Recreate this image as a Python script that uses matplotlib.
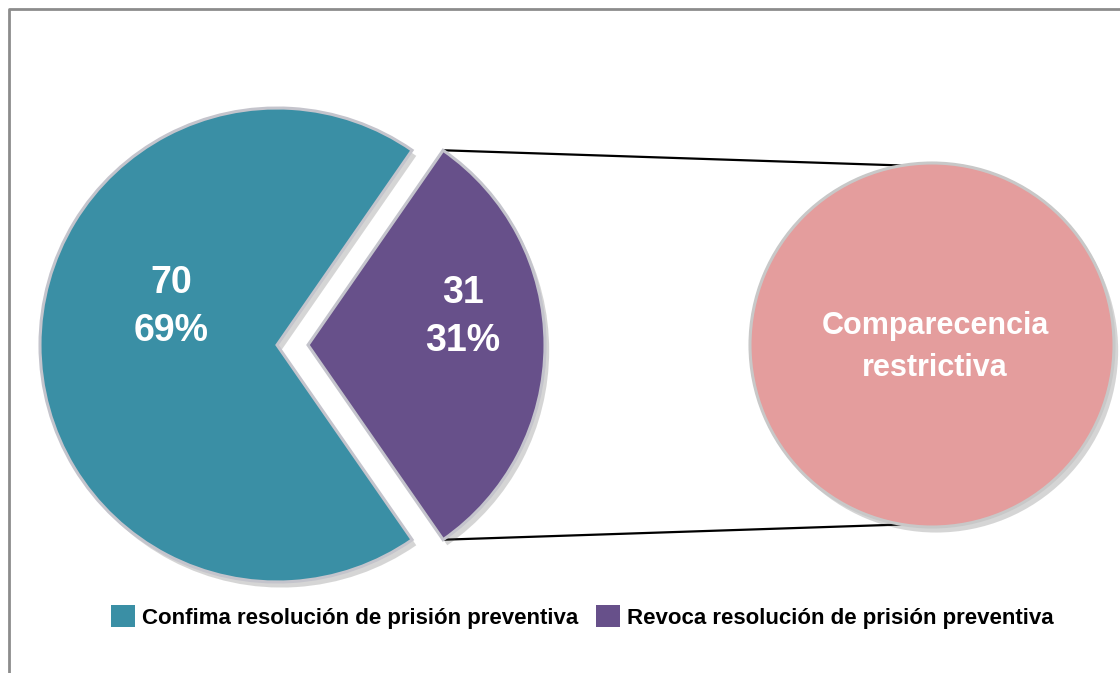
import matplotlib.pyplot as plt
import numpy as np
from matplotlib.patches import Patch

# data
categories = ['Confima resolución de prisión preventiva', 'Revoca resolución de prisión preventiva']
values = [70, 31]
colors = ['#3a8fa5', '#67508a']
sub_label = 'Comparecencia restrictiva'
sub_color = '#e49d9d'

W, H = 1120, 673
plt.rcParams['font.family'] = ['Liberation Sans', 'DejaVu Sans']

fig = plt.figure(figsize=(W / 100, H / 100), dpi=100)
ax = fig.add_axes([0, 0, 1, 1])

total = sum(values)
start = values[1] / total * 180  # so the exploded slice points right

shadow = {'ox': 3, 'oy': -4, 'facecolor': '#444444', 'edgecolor': 'none', 'alpha': 0.22}

main_c = (277, H - 345)
main_r = 237
wedges, _ = ax.pie(values, colors=colors, startangle=start, center=main_c, radius=main_r,
                   explode=[0, 31],
                   wedgeprops={'edgecolor': '#c4c4cc', 'linewidth': 2.2},
                   shadow=shadow)

# second pie (all of the exploded slice)
sub_c = (932, H - 345)
sub_r = 182
sub_w, _ = ax.pie([values[1]], colors=[sub_color], center=sub_c, radius=sub_r,
                  wedgeprops={'edgecolor': '#c8c8c8', 'linewidth': 2.2},
                  shadow=shadow)

ax.set_xlim(0, W)
ax.set_ylim(0, H)
ax.axis('off')

# connector lines from the exploded slice corners to the second pie
w = wedges[1]
cx, cy = w.center
for sgn in (1, -1):
    a = np.radians(w.theta2 if sgn > 0 else w.theta1)
    x0, y0 = cx + main_r * np.cos(a), cy + main_r * np.sin(a)
    b = np.radians(90 + 9.5) if sgn > 0 else np.radians(-90 - 9.5)
    x1, y1 = sub_c[0] + sub_r * np.cos(b), sub_c[1] + sub_r * np.sin(b)
    ax.plot([x0, x1], [y0, y1], color='black', lw=1.6, zorder=0)

# labels
pcts = [round(v / total * 100) for v in values]
ax.text(171, H - 307, f'{values[0]}\n{pcts[0]}%', color='white', fontsize=27,
        fontweight='bold', ha='center', va='center', linespacing=1.4)
ax.text(463, H - 317, f'{values[1]}\n{pcts[1]}%', color='white', fontsize=27,
        fontweight='bold', ha='center', va='center', linespacing=1.4)
ax.text(935, H - 347, 'Comparecencia\nrestrictiva', color='white', fontsize=22,
        fontweight='bold', ha='center', va='center', linespacing=1.5)

# legend
handles = [Patch(facecolor=c) for c in colors]
ax.legend(handles, categories, loc='center', bbox_to_anchor=(582 / W, 1 - 617 / H),
          ncol=2, frameon=False, prop={'size': 16, 'weight': 'bold'},
          handlelength=1.1, handleheight=1.1, handletextpad=0.3, columnspacing=0.8)

# outer frame (top and left only visible)
ax.plot([9, 9, W], [0, H - 9, H - 9], color='#8c8c8c', lw=2, clip_on=False)

fig.savefig('out.png', dpi=100)
